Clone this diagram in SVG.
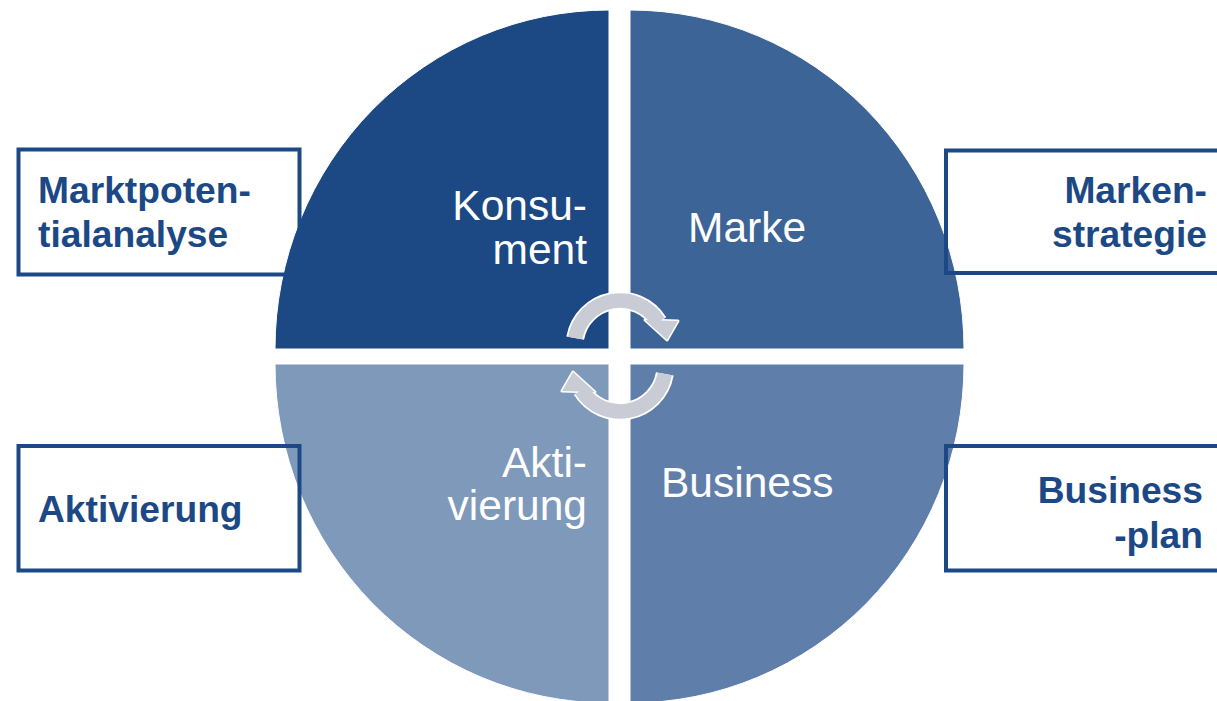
<svg xmlns="http://www.w3.org/2000/svg" width="1217" height="701" viewBox="0 0 1217 701">
<style>
.q{stroke:#ffffff;stroke-width:1}
.box{fill:none;stroke:#1c4885;stroke-width:4}
.bt{font-family:"Liberation Sans",Arial,sans-serif;font-weight:bold;font-size:37.2px;fill:#1c4885}
.it{font-family:"Liberation Sans",Arial,sans-serif;font-size:42.5px;fill:#ffffff}
.ao{fill:none;stroke:#ffffff;stroke-width:18}
.ai{fill:none;stroke:#c9ccd5;stroke-width:14.5}
.ho{fill:#ffffff;stroke:#ffffff;stroke-width:3;stroke-linejoin:round}
.hi{fill:#c9ccd5}
</style>
<rect width="1217" height="701" fill="#ffffff"/>
<g id="quadrant-konsument">
<path class="q" d="M609,349 L275,349 A334,339 0 0 1 609,10 Z" fill="#1c4884"/>
<text class="it" x="587" y="220" text-anchor="end">Konsu-</text>
<text class="it" x="587" y="264" text-anchor="end">ment</text>
</g>
<g id="quadrant-marke">
<path class="q" d="M630,349 L630,10 A334,339 0 0 1 964,349 Z" fill="#3c6497"/>
<text class="it" x="688" y="242">Marke</text>
</g>
<g id="quadrant-aktivierung">
<path class="q" d="M609,364 L609,703 A334,339 0 0 1 275,364 Z" fill="#7f99bb"/>
<text class="it" x="587" y="477" text-anchor="end">Akti-</text>
<text class="it" x="587" y="520" text-anchor="end">vierung</text>
</g>
<g id="quadrant-business">
<path class="q" d="M630,364 L964,364 A334,339 0 0 1 630,703 Z" fill="#5f7ea9"/>
<text class="it" x="661" y="497">Business</text>
</g>
<g id="connectors">
<g id="arrow-top">
<path class="ao" d="M575.2,338.1 A45.5,45.5 0 0 1 658.6,321.9"/>
<polygon class="ho" points="645,320 678,321 667,340"/>
<path class="ai" d="M575.2,338.1 A45.5,45.5 0 0 1 658.6,321.9"/>
<polygon class="hi" points="645,320 678,321 667,340"/>
</g>
<g id="arrow-bottom" transform="rotate(180 620 356)">
<path class="ao" d="M575.2,338.1 A45.5,45.5 0 0 1 658.6,321.9"/>
<polygon class="ho" points="645,320 678,321 667,340"/>
<path class="ai" d="M575.2,338.1 A45.5,45.5 0 0 1 658.6,321.9"/>
<polygon class="hi" points="645,320 678,321 667,340"/>
</g>
</g>
<g id="box-marktpotentialanalyse">
<rect class="box" x="18.5" y="149.5" width="281" height="125"/>
<text class="bt" x="38" y="203">Marktpoten-</text>
<text class="bt" x="38" y="247">tialanalyse</text>
</g>
<g id="box-markenstrategie">
<rect class="box" x="946" y="150.5" width="300" height="122.5"/>
<text class="bt" x="1207" y="203" text-anchor="end">Marken-</text>
<text class="bt" x="1207" y="247" text-anchor="end">strategie</text>
</g>
<g id="box-aktivierung">
<rect class="box" x="18.5" y="446" width="281" height="124.5"/>
<text class="bt" x="38" y="522">Aktivierung</text>
</g>
<g id="box-businessplan">
<rect class="box" x="946" y="446" width="300" height="124.5"/>
<text class="bt" x="1203" y="503" text-anchor="end">Business</text>
<text class="bt" x="1203" y="548" text-anchor="end">-plan</text>
</g>
</svg>
